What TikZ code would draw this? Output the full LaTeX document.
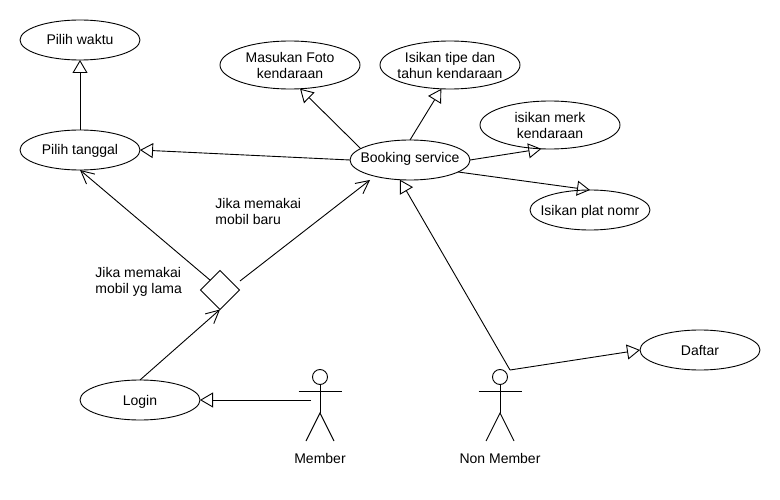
\documentclass[tikz,border=0pt]{standalone}
\usepackage{fontspec}
\setmainfont{Liberation Sans}
\usetikzlibrary{arrows.meta,shapes.geometric}

\begin{document}
\begin{tikzpicture}[x=1pt,y=-1pt,line width=0.9pt]

\tikzset{usecase/.style = {shape=ellipse,draw,inner xsep=-15pt,inner ysep=0pt,outer sep=0pt,minimum width=120pt,minimum height=40pt,align=center,text height=10pt,text depth=0pt,font=\fontsize{14}{16}\selectfont}}
\tikzset{bigcase/.style = {usecase,text height=,text depth=,minimum width=140pt,minimum height=48pt}}
\tikzset{note/.style = {anchor=west,align=left,inner sep=0pt,font=\fontsize{14}{16}\selectfont}}
\tikzset{actorname/.style = {inner sep=0pt,font=\fontsize{14}{16}\selectfont}}
\tikzset{actorhead/.style = {shape=circle,draw,inner sep=0pt,outer sep=0pt,minimum size=15pt}}
\tikzset{inherit/.style = {-{Triangle[open,length=13pt,width=15pt]}}}
\tikzset{flow/.style = {-{Straight Barb[length=13pt,width=13pt]}}}

\useasboundingbox (0,0) rectangle (780,500);

% use cases
\node[usecase] (waktu) at (80,40) {Pilih waktu};
\node[usecase] (tanggal) at (80,150) {Pilih tanggal};
\node[bigcase] (foto) at (290,65) {Masukan Foto\\kendaraan};
\node[bigcase] (tipe) at (450,65) {Isikan tipe dan\\tahun kendaraan};
\node[bigcase] (merk) at (550,125) {isikan merk\\kendaraan};
\node[usecase,text depth=4pt] (booking) at (410,160) {Booking service};
\node[usecase] (plat) at (590,210) {Isikan plat nomr};
\node[usecase] (login) at (140,400) {Login};
\node[usecase] (daftar) at (700,350) {Daftar};

% decision
\node[shape=diamond,draw,inner sep=0pt,outer sep=0pt,minimum size=39pt] (pilih) at (220,290) {};

% labels
\node[note] (baru) at (215,211) {Jika memakai\\mobil baru};
\node[note] (lama) at (95,282) {Jika memakai\\mobil yg lama};

% actors
\foreach \who/\x/\actortext in {member/320/Member,nonmember/500/Non Member}{
  \node[actorhead] (\who head) at (\x,377) {};
  \coordinate (\who hip) at (\x,413);
  \coordinate (\who armL) at (\x-21.5,391);
  \coordinate (\who armR) at (\x+21.5,391);
  \coordinate (\who legL) at (\x-14,441);
  \coordinate (\who legR) at (\x+14,441);
  \draw (\who head) -- (\who hip);
  \draw (\who armL) -- (\who armR);
  \draw (\who legL) -- (\who hip) -- (\who legR);
  \node[actorname] (\who name) at (\x,458) {\actortext};
}

% free ends
\coordinate (bookingtip) at (370,180);
\coordinate (pilihright) at (240,281);
\coordinate (memberhand) at (311,400);
\coordinate (nonmemberjoint) at (510,370);

%edges

\draw[inherit] (tanggal.north) to (waktu.south);
\draw[inherit] (booking.west) to (tanggal.east);
\draw[inherit] (booking.167) to (foto.-67);
\draw[inherit] (booking.north) to (tipe.-110);
\draw[inherit] (booking.east) to (merk.-110);
\draw[inherit] (booking.-14) to (plat.north);
\draw[inherit] (nonmemberjoint) to (booking.-117);
\draw[inherit] (nonmemberjoint) to (daftar.west);
\draw[inherit] (memberhand) to (login.east);
\draw[flow] (login.north) to (pilih.south);
\draw[flow] (pilih.north west) to (tanggal.south);
\draw[flow] (pilihright) to (bookingtip);
\end{tikzpicture}
\end{document}
